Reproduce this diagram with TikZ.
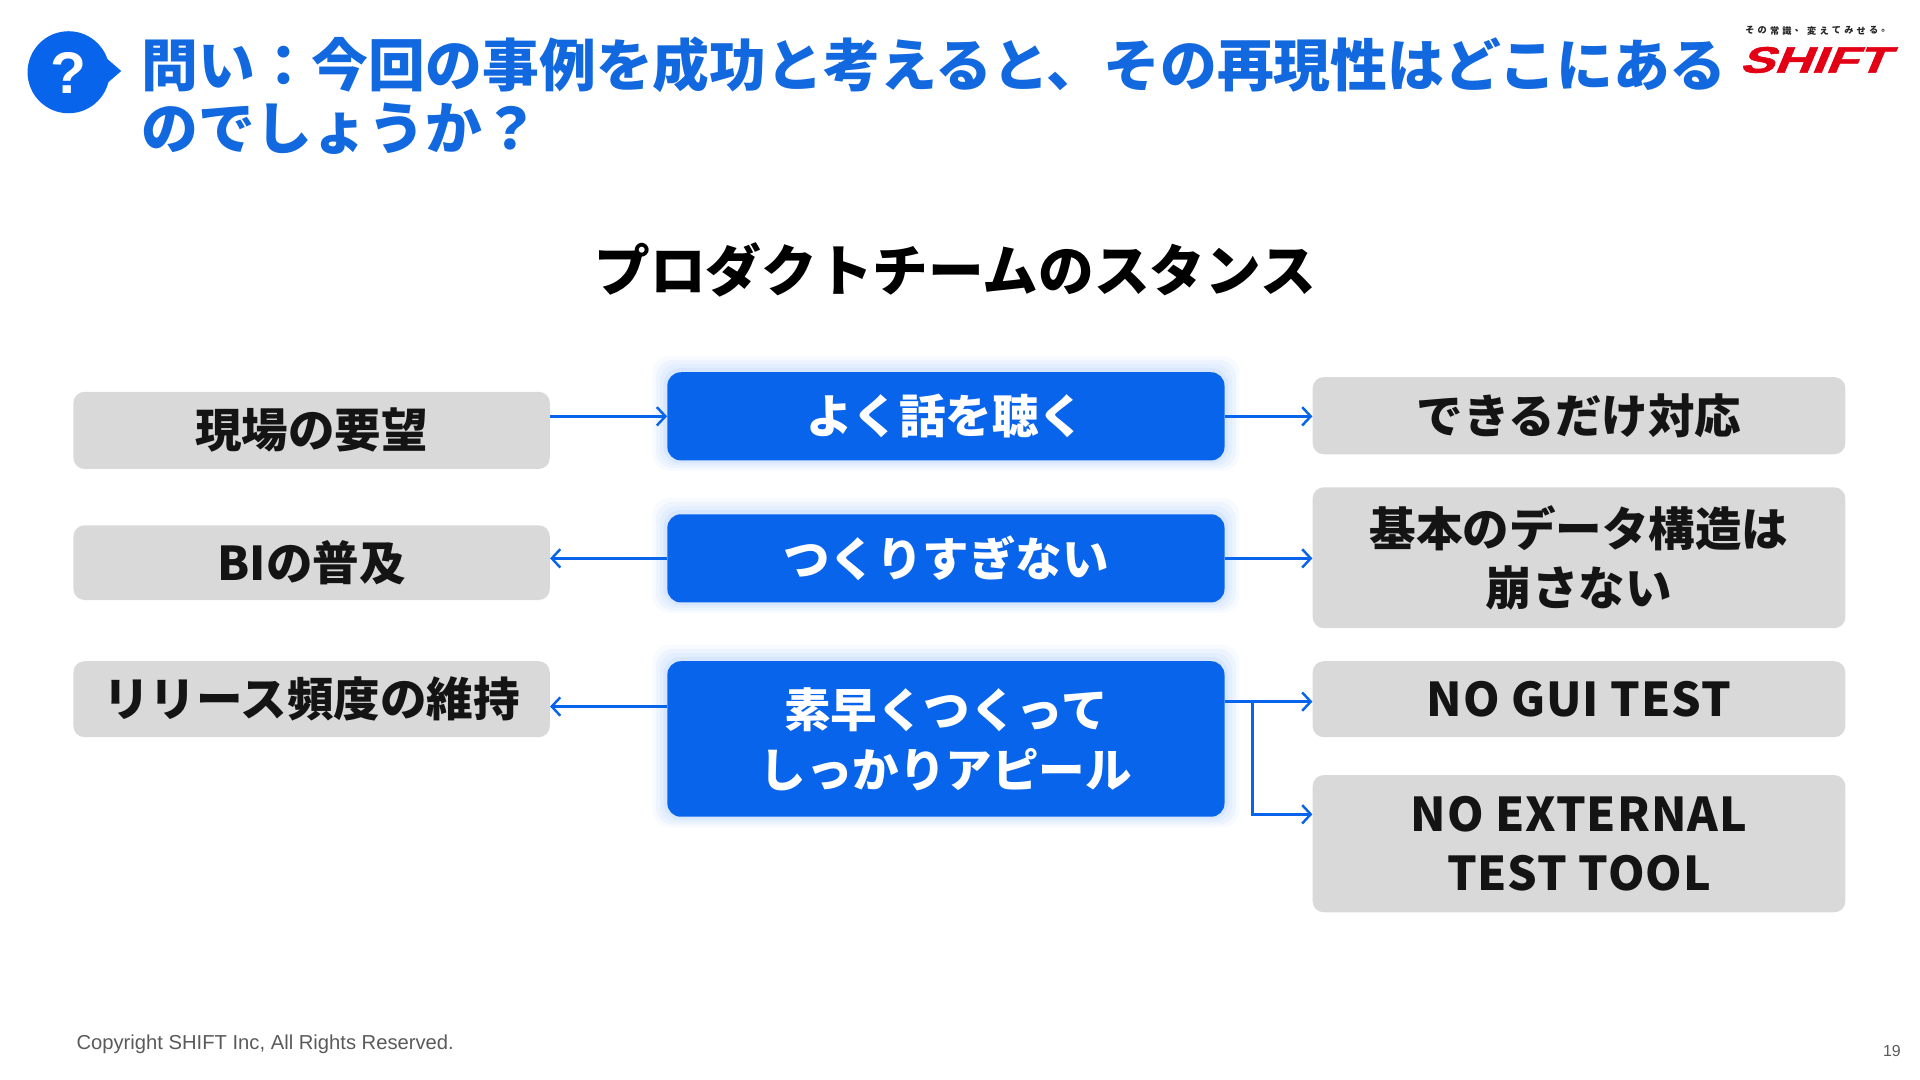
\documentclass[tikz,border=0pt]{standalone}
\usepackage{fontspec}
\setmainfont{Noto Sans CJK JP}
\newfontfamily\lat{Liberation Sans}
\newfontfamily\logofont{Liberation Sans}[FakeSlant=0.3,FakeBold=1.5]
\usetikzlibrary{arrows.meta,backgrounds,calc}
\definecolor{sblue}{RGB}{8,100,234}
\definecolor{tblue}{RGB}{18,104,222}
\definecolor{boxgray}{RGB}{217,217,217}
\definecolor{glow}{RGB}{120,170,250}
\definecolor{shiftred}{RGB}{228,0,20}
\definecolor{foot}{RGB}{90,90,90}
\tikzset{
  graybox/.style={rectangle, rounded corners=9pt, fill=boxgray, inner sep=0pt, align=center,
    font=\fontsize{38}{48}\selectfont\bfseries, text=black!92},
  bluebox/.style={rectangle, rounded corners=11pt, fill=sblue, inner sep=0pt, align=center,
    font=\fontsize{38}{49}\selectfont\bfseries, text=white},
  arr/.style={draw=sblue, line width=2pt, -{Straight Barb[length=7pt,width=15pt]}},
  glowlayer/.style={fill=glow, opacity=#1}
}
\begin{document}
\begin{tikzpicture}[x=1pt,y=-1pt]
\useasboundingbox (0,0) rectangle (1568,882);
% question icon
\fill[sblue] (56,59) circle (33.5);
\fill[sblue] (84,45) -- (99,58) -- (84,71) -- cycle;
\node[text=white, font=\lat\bfseries\fontsize{48}{48}\selectfont] (qm) at (56,60) {?};
% title
\node[anchor=west, align=left, text=tblue, font=\fontsize{46.4}{51}\selectfont\bfseries] (title) at (112,78)
  {問い：今回の事例を成功と考えると、その再現性はどこにある\\のでしょうか？};
% logo
\foreach \c [count=\i] in {そ,の,常,識,、,変,え,て,み,せ,る,。}
  \node[font=\fontsize{7.5}{8}\selectfont\bfseries, text=black!85, inner sep=0pt] (tg\i) at (1419+\i*10.1,25) {\c};
\node[text=shiftred, inner sep=0pt, font=\logofont\bfseries\fontsize{30}{30}\selectfont] (logo) at (1481,49)
  {\scalebox{1.4}[1]{SHIFT}};
% subtitle
\node[font=\fontsize{45.5}{50}\selectfont\bfseries, text=black] (sub) at (780,220) {プロダクトチームのスタンス};
% left boxes
\node[graybox, minimum width=389pt, minimum height=63pt] (L1) at (254.5,351.5) {現場の要望};
\node[graybox, minimum width=389pt, minimum height=61pt] (L2) at (254.5,459.5) {BIの普及};
\node[graybox, minimum width=389pt, minimum height=62pt] (L3) at (254.5,571) {リリース頻度の維持};
% middle boxes
\node[bluebox, minimum width=455pt, minimum height=72pt] (M1) at (772.5,340) {よく話を聴く};
\node[bluebox, minimum width=455pt, minimum height=72pt] (M2) at (772.5,456) {つくりすぎない};
\node[bluebox, minimum width=455pt, minimum height=127pt] (M3) at (772.5,603.5) {素早くつくって\\しっかりアピール};
% right boxes
\node[graybox, minimum width=435pt, minimum height=63pt] (R1) at (1289.5,339.5) {できるだけ対応};
\node[graybox, minimum width=435pt, minimum height=115pt] (R2) at (1289.5,455.5) {基本のデータ構造は\\崩さない};
\node[graybox, minimum width=435pt, minimum height=62pt] (R3) at (1289.5,571) {\addfontfeature{LetterSpace=2}NO GUI TEST};
\node[graybox, minimum width=435pt, minimum height=112pt] (R4) at (1289.5,689) {\addfontfeature{LetterSpace=2}NO EXTERNAL\\\addfontfeature{LetterSpace=2}TEST TOOL};
% glow
\begin{pgfonlayer}{background}
\foreach \n in {M1,M2,M3}{
  \foreach \g/\o in {12/0.06,9/0.07,6/0.09,3/0.11}{
    \fill[glowlayer=\o, rounded corners=14pt] ($(\n.south west)+(-\g,0.7*\g)$) rectangle ($(\n.north east)+(\g,-1.1*\g)$);
  }
}
\end{pgfonlayer}
% connectors
\coordinate (a1) at (L1.east |- M1.west);
\draw[arr] (a1) -- (M1.west);
\draw[arr] (M1.east) -- (M1.east -| R1.west);
\draw[arr] (M2.west) -- (M2.west -| L2.east);
\draw[arr] (M2.east) -- (M2.east -| R2.west);
\coordinate (a3) at (M3.west |- 0,577);
\draw[arr] (a3) -- (a3 -| L3.east);
\coordinate (b3) at (M3.east |- 0,573);
\coordinate (br) at (1023,573);
\coordinate (b4) at (R4.west |- 0,665);
\draw[arr] (b3) -- (b3 -| R3.west);
\draw[arr] (br) |- (b4);
% footer
\node[anchor=west, text=foot, font=\lat\fontsize{16.5}{16.5}\selectfont] (copy) at (59,853) {Copyright SHIFT Inc, All Rights Reserved.};
\node[text=foot, font=\lat\fontsize{13}{13}\selectfont] (pg) at (1545,858) {19};
\end{tikzpicture}
\end{document}
